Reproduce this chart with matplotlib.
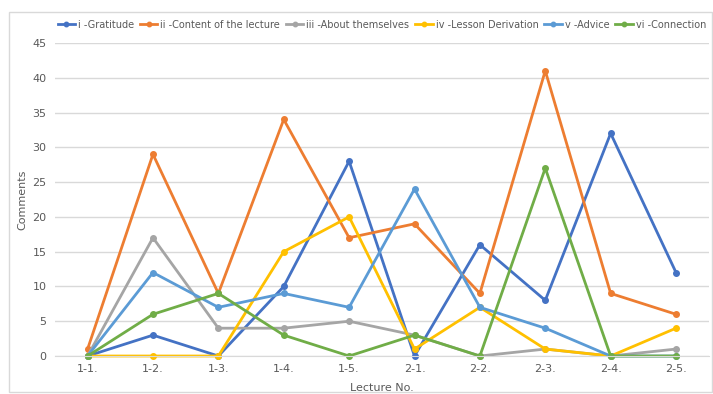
import matplotlib.pyplot as plt
from matplotlib.patches import Rectangle

lectures = ["1-1.", "1-2.", "1-3.", "1-4.", "1-5.", "2-1.", "2-2.", "2-3.", "2-4.", "2-5."]

gratitude = [0, 3, 0, 10, 28, 0, 16, 8, 32, 12]
content = [1, 29, 9, 34, 17, 19, 9, 41, 9, 6]
about_themselves = [0, 17, 4, 4, 5, 3, 0, 1, 0, 1]
lesson_derivation = [0, 0, 0, 15, 20, 1, 7, 1, 0, 4]
advice = [0, 12, 7, 9, 7, 24, 7, 4, 0, 0]
connection = [0, 6, 9, 3, 0, 3, 0, 27, 0, 0]

series = [
    ("i -Gratitude", gratitude, "#4472C4"),
    ("ii -Content of the lecture", content, "#ED7D31"),
    ("iii -About themselves", about_themselves, "#A5A5A5"),
    ("iv -Lesson Derivation", lesson_derivation, "#FFC000"),
    ("v -Advice", advice, "#5B9BD5"),
    ("vi -Connection", connection, "#70AD47"),
]

fig = plt.figure(figsize=(7.13, 3.94), dpi=100)
ax = fig.add_axes([0.077, 0.0964, 0.917, 0.7946])

x = list(range(len(lectures)))
for name, vals, col in series:
    ax.plot(x, vals, color=col, lw=2, marker="o", ms=4, label=name, clip_on=False)

ax.set_xlim(-0.5, len(lectures) - 0.5)
ax.set_ylim(0, 45)
ax.set_yticks(range(0, 46, 5))
ax.set_xticks(x)
ax.set_xticklabels(lectures)
ax.grid(axis="y", color="#D9D9D9", lw=1)
ax.set_axisbelow(True)
for s in ["top", "right", "left"]:
    ax.spines[s].set_visible(False)
ax.spines["bottom"].set_color("#D9D9D9")
ax.tick_params(length=0, labelsize=8, labelcolor="#595959", pad=6)

ax.set_xlabel("Lecture No.", fontsize=8, color="#595959", labelpad=6)
ax.set_ylabel("Comments", fontsize=8, color="#595959", labelpad=4)

ax.legend(loc="lower center", bbox_to_anchor=(0.5, 1.03), ncol=6, frameon=False,
          fontsize=7, labelcolor="#595959", handlelength=1.8, handletextpad=0.3,
          columnspacing=0.6, borderaxespad=0, markerscale=0.8)

fig.patches.append(Rectangle((0.013, 0.005), 0.985, 0.965, transform=fig.transFigure,
                             fill=False, edgecolor="#D9D9D9", lw=1))

fig.savefig("out.png", dpi=100)
